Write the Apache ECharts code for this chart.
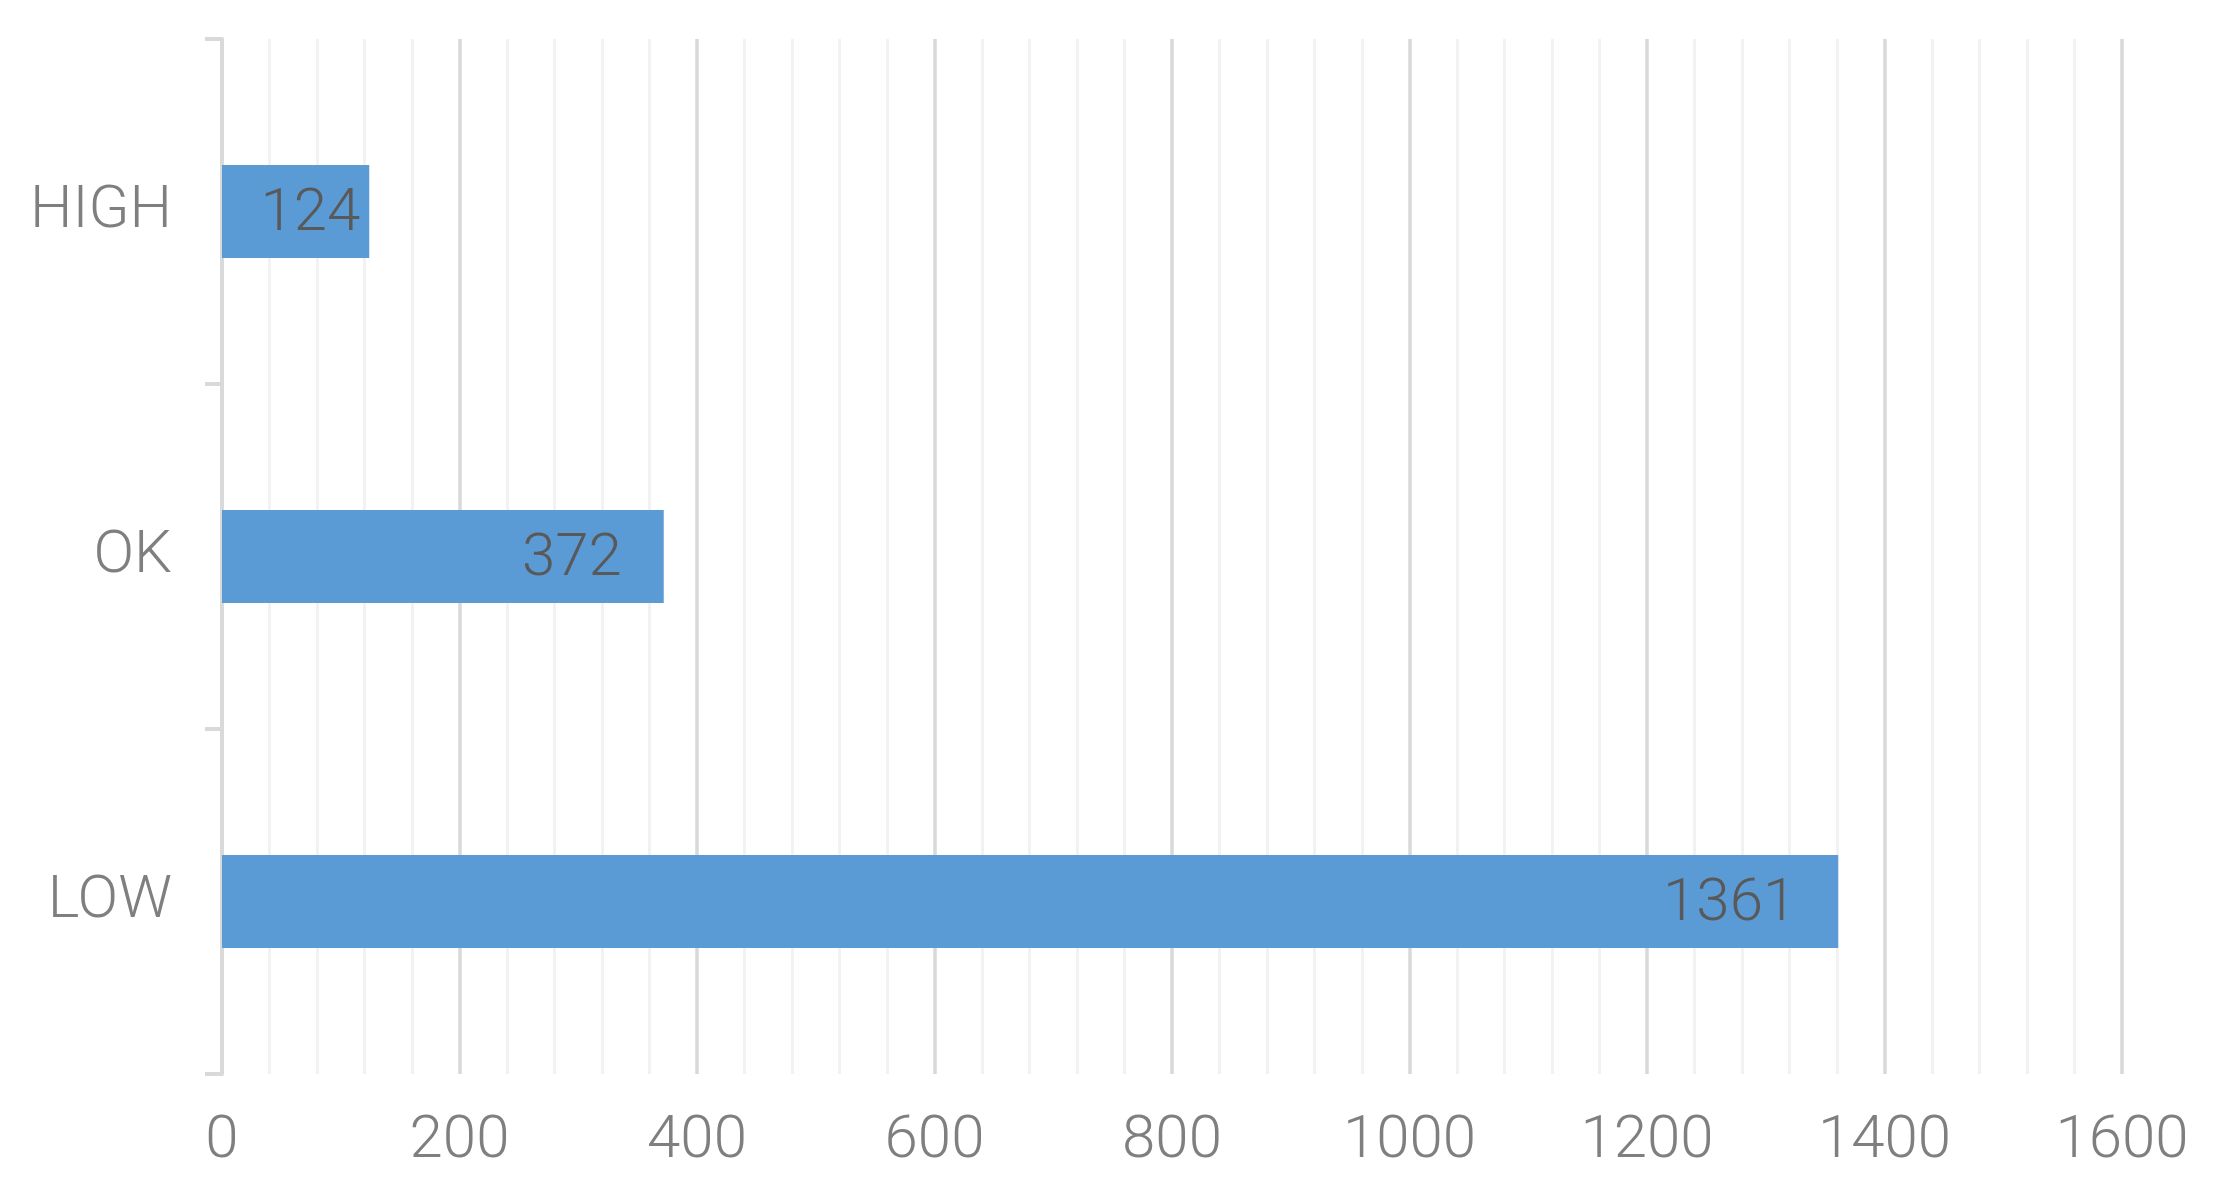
<!DOCTYPE html>
<html>
<head>
<meta charset="utf-8">
<script src="https://cdn.jsdelivr.net/npm/echarts@6/dist/echarts.min.js"></script>
<style>
html,body{margin:0;padding:0;background:#fff;}
#chart{width:2230px;height:1195px;}
</style>
</head>
<body>
<div id="chart"></div>
<script>
const categories = ['HIGH', 'OK', 'LOW'];
const values = [124, 372, 1361];
const xTicks = [0, 200, 400, 600, 800, 1000, 1200, 1400, 1600];

const chart = echarts.init(document.getElementById('chart'));
const fontFamily = 'Roboto, "Noto Sans", sans-serif';
const seriesData = values.map(function (v) {
  // short bars keep the label close to the bar end, as in the reference
  return { value: v, label: { distance: v < 200 ? 9 : 42 } };
});
chart.setOption({
  animation: false,
  backgroundColor: '#ffffff',
  grid: { left: 222, right: 108, top: 39, bottom: 121, containLabel: false },
  xAxis: {
    type: 'value',
    min: xTicks[0],
    max: xTicks[xTicks.length - 1],
    interval: xTicks[1] - xTicks[0],
    axisLine: { show: false },
    axisTick: { show: false },
    axisLabel: {
      color: '#7f7f7f', fontSize: 60, fontFamily: fontFamily, fontWeight: 300, margin: 38,
      formatter: function (v) { return String(v); }
    },
    splitLine: { show: true, lineStyle: { color: '#d9d9d9', width: 3.5 } },
    minorTick: { show: false, splitNumber: 5 },
    minorSplitLine: { show: true, lineStyle: { color: '#f2f2f2', width: 3 } }
  },
  yAxis: {
    type: 'category',
    data: categories,
    inverse: true,
    axisLine: { show: true, lineStyle: { color: '#d9d9d9', width: 4 } },
    axisTick: { show: true, length: 17, lineStyle: { color: '#d9d9d9', width: 4 } },
    axisLabel: { color: '#7f7f7f', fontSize: 60, fontFamily: fontFamily, fontWeight: 300, margin: 50 },
    splitLine: { show: false }
  },
  series: [{
    type: 'bar',
    data: seriesData,
    barWidth: '27%',
    itemStyle: { color: '#5b9bd5' },
    label: {
      show: true,
      position: 'insideRight',
      distance: 42,
      color: '#595959',
      fontSize: 60,
      fontFamily: fontFamily,
      fontWeight: 300,
      offset: [0, 3]
    }
  }]
});
</script>
</body>
</html>
